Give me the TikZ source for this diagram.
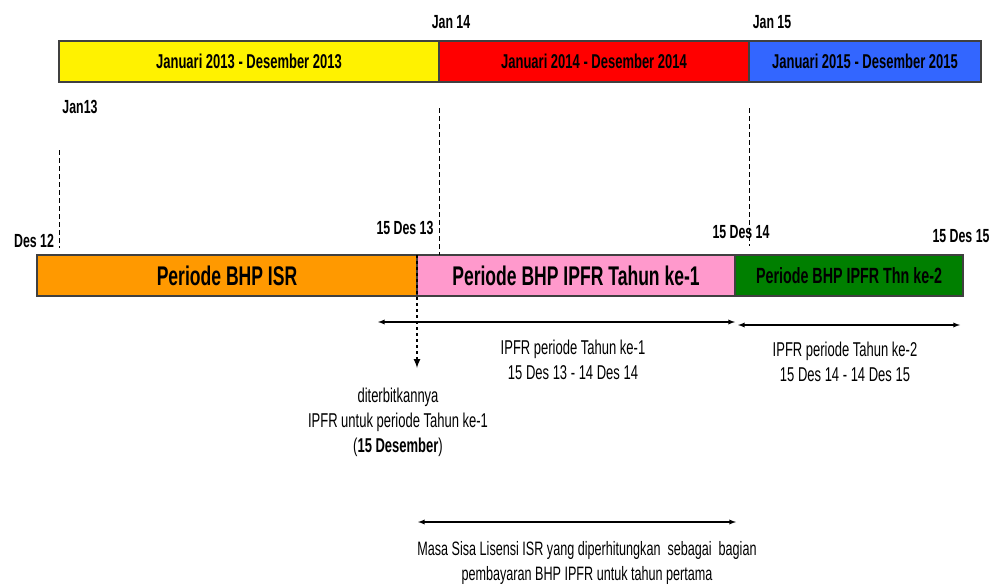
\documentclass[tikz,border=0pt]{standalone}
\usepackage{fontspec}
\setmainfont{Liberation Sans}[FakeStretch=0.65]
\usetikzlibrary{positioning}

\definecolor{biru}{HTML}{3366FF}
\definecolor{oranye}{HTML}{FF9900}
\definecolor{merahmuda}{HTML}{FF99CC}
\definecolor{hijau}{HTML}{007F00}

\begin{document}
\begin{tikzpicture}[x=1pt, y=-1pt,
  kalbar/.style={draw=black!75, line width=1.2pt, outer sep=0pt, inner sep=0pt, minimum height=41pt, font=\fontsize{20}{22}\selectfont\bfseries},
  bhpbar/.style={draw=black!75, line width=1.2pt, outer sep=0pt, inner sep=0pt, minimum height=41pt, font=\fontsize{27}{30}\selectfont\bfseries},
  guide/.style={line width=0.6pt, dash pattern=on 5pt off 3pt},
  tgl/.style={font=\fontsize{19}{21}\selectfont\bfseries},
  note/.style={align=center, font=\fontsize{20}{25}\selectfont},
  span/.style={latex-latex, line width=1.3pt}]
\useasboundingbox (0,0) rectangle (1004,586);
% tahun kalender
\node [kalbar, fill=yellow, minimum width=380pt, anchor=west] (kal13) at (59,61.5) {Januari 2013 - Desember 2013};
\node [kalbar, fill=red, minimum width=310pt, right=0pt of kal13] (kal14) {Januari 2014 - Desember 2014};
\node [kalbar, fill=biru, minimum width=232pt, right=0pt of kal14] (kal15) {Januari 2015 - Desember 2015};
\node [tgl] (jan14) at (451,22) {Jan 14};
\node [tgl] (jan15) at (772,22) {Jan 15};
\node [tgl] (jan13) at (80,107) {Jan13};
% periode BHP
\node [bhpbar, fill=oranye, minimum width=380pt, anchor=west] (isr) at (37,275.5) {Periode BHP ISR};
\node [bhpbar, fill=merahmuda, minimum width=318pt, right=0pt of isr] (ipfr1) {Periode BHP IPFR Tahun ke-1};
\node [bhpbar, fill=hijau, minimum width=228pt, right=0pt of ipfr1, font=\fontsize{22}{24}\selectfont\bfseries] (ipfr2) {Periode BHP IPFR Thn ke-2};
\node [tgl] (des12) at (34,241) {Des 12};
\node [tgl] (des13) at (405,228) {15 Des 13};
\node [tgl] (des14) at (741,232) {15 Des 14};
\node [tgl] (des15) at (961,236) {15 Des 15};
% garis bantu
\coordinate (g13a) at (59,150);
\coordinate (g13b) at (59,248);
\coordinate (g14a) at (439,108);
\coordinate (g15a) at (749,108);
\coordinate (g15b) at (749,246);
\draw [guide] (g13a) -- (g13b);
\draw [guide] (g14a) -- (isr.north -| g14a);
\draw [guide] (g15a) -- (g15b);
% penerbitan IPFR
\coordinate (terbit) at (417,368);
\draw [-latex, line width=2pt, dash pattern=on 3pt off 3pt] (isr.north east) -- (terbit);
\node [note] (terbitnote) at (398,422) {diterbitkannya\\IPFR untuk periode Tahun ke-1\\(\textbf{15 Desember})};
% rentang
\coordinate (r1a) at (378,322);
\coordinate (r1b) at (735,322);
\coordinate (r2a) at (738,325);
\coordinate (r2b) at (960,325);
\coordinate (r3a) at (418,522);
\coordinate (r3b) at (736,522);
\draw [span] (r1a) -- (r1b);
\draw [span] (r2a) -- (r2b);
\draw [span] (r3a) -- (r3b);
\node [note] (ipfr1note) at (573,360) {IPFR periode Tahun ke-1\\15 Des 13 - 14 Des 14};
\node [note] (ipfr2note) at (845,362) {IPFR periode Tahun ke-2\\15 Des 14 - 14 Des 15};
\node [note, font=\fontsize{19.4}{25}\selectfont] (masanote) at (587,563) {Masa Sisa Lisensi ISR yang diperhitungkan\ \ sebagai\ \ bagian\\pembayaran BHP IPFR untuk tahun pertama};
\end{tikzpicture}
\end{document}
